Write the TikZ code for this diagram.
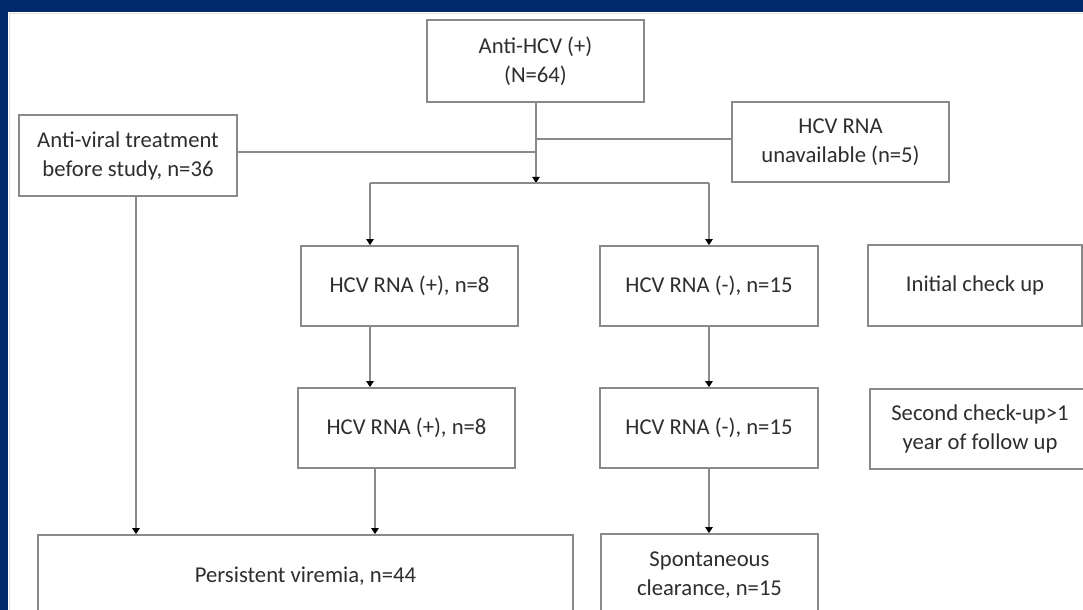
\documentclass[tikz,border=0pt]{standalone}
\usepackage{fontspec}
\setmainfont{Carlito}
\usetikzlibrary{arrows.meta}
\definecolor{navy}{HTML}{002A6C}
\definecolor{linegray}{HTML}{8A8A8A}
\definecolor{txt}{HTML}{2E2E2E}
\tikzset{
  box/.style={draw=linegray, line width=1.3pt, fill=white, inner sep=0pt, align=center,
    text=txt, font=\fontsize{17}{21.75}\selectfont},
  conn/.style={draw=linegray, line width=1.3pt},
  arr/.style={conn, -{Triangle[width=5.5pt,length=4.5pt,fill=black,color=black]}}
}
\begin{document}
\begin{tikzpicture}[x=0.75pt,y=-0.75pt]
\useasboundingbox (0,0) rectangle (1083,610);
\clip (0,0) rectangle (1083,610);
\fill[navy] (0,0) rectangle (1083,610);
\fill[white] (8,12) rectangle (1090,620);
\draw[black!12, line width=1.2pt] (9.5,625) -- (9.5,13.5) -- (1090,13.5);
% nodes
\node[box, minimum width=162.75pt, minimum height=61.5pt] (hcv) at (535.5,61) {Anti-HCV (+)\\(N=64)};
\node[box, minimum width=163.5pt, minimum height=60.75pt] (av) at (128,155.5) {Anti-viral treatment\\before study, n=36};
\node[box, minimum width=162.75pt, minimum height=60pt] (un) at (840.5,142) {HCV RNA\\unavailable (n=5)};
\node[box, minimum width=162.75pt, minimum height=60pt] (p1) at (409.5,286) {HCV RNA (+), n=8};
\node[box, minimum width=163.5pt, minimum height=60pt] (n1) at (709,286) {HCV RNA (-), n=15};
\node[box, minimum width=162.75pt, minimum height=60pt] (p2) at (406.5,428) {HCV RNA (+), n=8};
\node[box, minimum width=163.5pt, minimum height=60pt] (n2) at (709,428) {HCV RNA (-), n=15};
\node[box, minimum width=160.5pt, minimum height=60.75pt] (ic) at (975,285.5) {Initial check up};
\node[box, minimum width=165pt, minimum height=60pt] (sc) at (980,429) {Second check-up>1\\year of follow up};
\node[box, minimum width=401.25pt, minimum height=61.5pt] (pv) at (305.5,576) {Persistent viremia, n=44};
\node[box, minimum width=162.75pt, minimum height=61.5pt] (spc) at (709.5,575) {Spontaneous\\clearance, n=15};
% coordinates
\coordinate (split) at (536,183);
\coordinate (sl) at (370,183);
\coordinate (sr) at (709,183);
% connectors
\draw[arr] (hcv.south -| split) -- (split);
\draw[conn] (av.east |- 0,152) -- (536,152);
\draw[conn] (un.west |- 0,139) -- (536,139);
\draw[conn] (sl) -- (sr);
\draw[arr] (sl) -- (p1.north -| sl);
\draw[arr] (sr) -- (n1.north -| sr);
\draw[arr] (p1.south -| sl) -- (p2.north -| sl);
\draw[arr] (n1.south -| sr) -- (n2.north -| sr);
\draw[arr] (av.south -| 136,0) -- (pv.north -| 136,0);
\draw[arr] (p2.south -| 375,0) -- (pv.north -| 375,0);
\draw[arr] (n2.south -| sr) -- (spc.north -| sr);
\end{tikzpicture}
\end{document}
